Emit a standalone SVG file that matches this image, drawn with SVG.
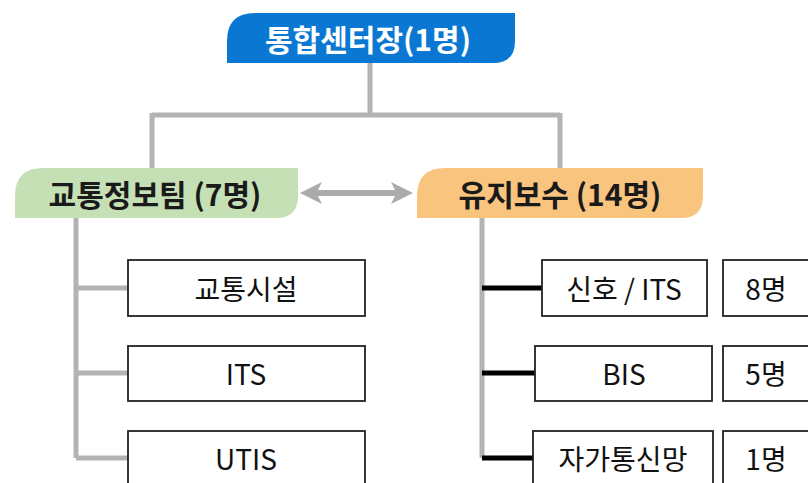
<svg xmlns="http://www.w3.org/2000/svg" width="808" height="483" viewBox="0 0 808 483">
<style>
.t{font-family:"Noto Sans CJK KR","Noto Sans",sans-serif;text-anchor:middle;dominant-baseline:central}
.h{font-weight:bold;font-size:30px}
.b{font-size:28px;fill:#111}
.box{fill:#fff;stroke:#222;stroke-width:1.8}
.g{stroke:#b3b3b3;stroke-width:5;fill:none}
.k{stroke:#000;stroke-width:5;fill:none}
</style>
<rect width="808" height="483" fill="#fff"/>
<g id="connectors">
<path class="g" d="M370,63 V115 M152,115 H560 M152,113 V168 M560,113 V168"/>
<path class="g" d="M76,218 V458 M76,288 H130 M76,373 H130 M76,458 H130"/>
<path class="g" d="M482,218 V458"/>
<path class="k" d="M482,288 H542 M482,373 H535 M482,458 H533"/>
<path d="M300,193 L322,182 L318,190 H395 L391,182 L413,193 L391,204 L395,196 H318 L322,204 Z" fill="#ababab"/>
</g>
<g id="n-center">
<path d="M255,13 H515 V41 Q515,63 493,63 H227 V41 Q227,13 255,13 Z" fill="#0a78d2"/>
<text class="t h" x="368" y="38" fill="#fff">통합센터장(1명)</text>
</g>
<g id="n-traffic">
<path d="M43,168 H298 V196 Q298,218 276,218 H15 V196 Q15,168 43,168 Z" fill="#c6e0b5"/>
<text class="t h" x="155" y="193" fill="#1a1a1a">교통정보팀 (7명)</text>
</g>
<g id="n-maint">
<path d="M445,168 H703 V196 Q703,218 681,218 H417 V196 Q417,168 445,168 Z" fill="#f8c47e"/>
<text class="t h" x="560" y="193" fill="#1a1a1a">유지보수 (14명)</text>
</g>
<g id="n-facility"><rect class="box" x="128" y="260" width="237" height="56"/><text class="t b" x="246" y="288">교통시설</text></g>
<g id="n-its"><rect class="box" x="128" y="346" width="237" height="55"/><text class="t b" x="246" y="373">ITS</text></g>
<g id="n-utis"><rect class="box" x="128" y="431" width="237" height="60"/><text class="t b" x="246" y="458">UTIS</text></g>
<g id="n-signal"><rect class="box" x="542" y="260" width="165" height="56"/><text class="t b" x="624" y="288">신호 / ITS</text></g>
<g id="n-signal-cnt"><rect class="box" x="723" y="260" width="100" height="56"/><text class="t b" x="766" y="288">8명</text></g>
<g id="n-bis"><rect class="box" x="535" y="346" width="177" height="55"/><text class="t b" x="624" y="373">BIS</text></g>
<g id="n-bis-cnt"><rect class="box" x="723" y="346" width="100" height="55"/><text class="t b" x="766" y="373">5명</text></g>
<g id="n-net"><rect class="box" x="533" y="431" width="180" height="60"/><text class="t b" x="623" y="458">자가통신망</text></g>
<g id="n-net-cnt"><rect class="box" x="723" y="431" width="100" height="60"/><text class="t b" x="766" y="458">1명</text></g>
</svg>
